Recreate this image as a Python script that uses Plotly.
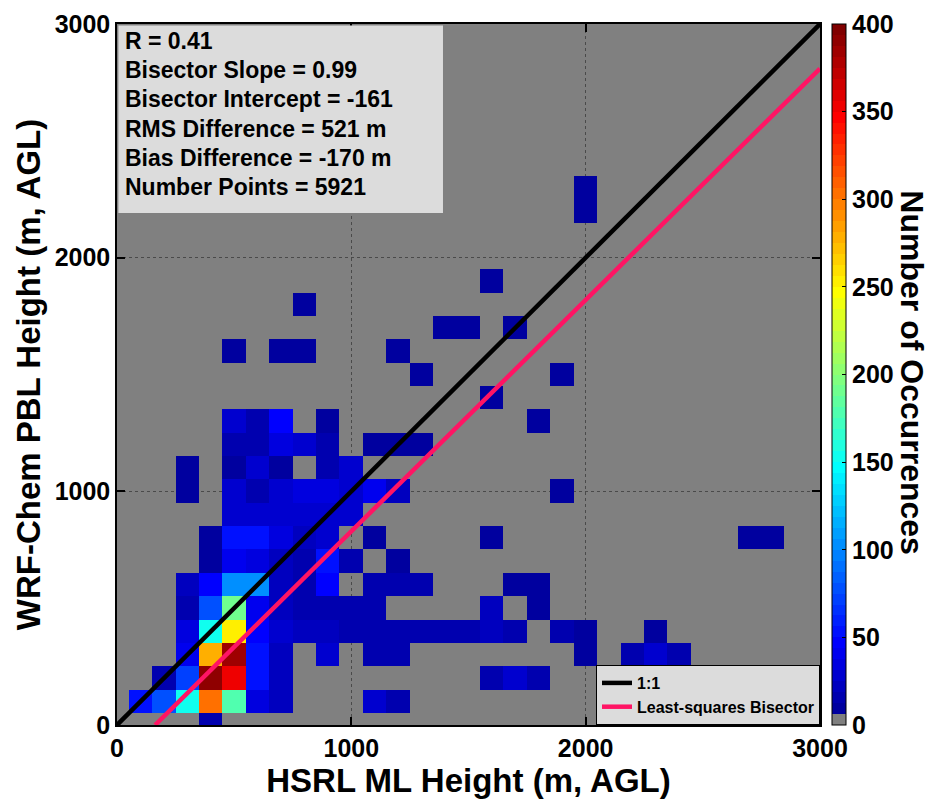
import numpy as np
import plotly.graph_objects as go

# ---------------- data ----------------
bin_centers = list(range(0, 3001, 100))          # 100 m bins, centred on multiples of 100 m

row_y = [0, 100, 200, 300, 400, 500, 600, 700, 800, 900, 1000, 1100, 1200, 1300,
         1400, 1500, 1600, 1700, 1800, 1900, 2200, 2300]
row_x = [
    [400],
    [100, 200, 300, 400, 500, 600, 700, 1100, 1200],
    [200, 300, 400, 500, 600, 700, 1600, 1700, 1800],
    [300, 400, 500, 600, 700, 900, 1100, 1200, 2000, 2200, 2300, 2400],
    [300, 400, 500, 600, 700, 800, 900, 1000, 1100, 1200, 1300, 1400, 1500, 1600, 1700, 1900, 2000, 2300],
    [300, 400, 500, 600, 700, 800, 900, 1000, 1100, 1600, 1800],
    [300, 400, 500, 600, 700, 800, 900, 1100, 1200, 1300, 1700, 1800],
    [400, 500, 600, 700, 800, 900, 1000, 1200],
    [400, 500, 600, 700, 800, 900, 1100, 1600, 2700, 2800],
    [500, 600, 700, 800, 900, 1000],
    [300, 500, 600, 700, 800, 900, 1000, 1100, 1200, 1900],
    [300, 500, 600, 700, 900, 1000],
    [500, 600, 700, 800, 900, 1100, 1200, 1300],
    [500, 600, 700, 900, 1800],
    [1600],
    [1300, 1900],
    [500, 700, 800, 1200],
    [1400, 1500, 1700],
    [800],
    [1600],
    [2000],
    [2000],
]
row_n = [
    [15],
    [55, 80, 150, 300, 175, 35, 20, 30, 18],
    [15, 70, 390, 350, 50, 20, 15, 30, 15],
    [40, 275, 385, 50, 20, 25, 15, 15, 12, 15, 25, 18],
    [35, 150, 250, 45, 30, 20, 20, 18, 18, 18, 18, 18, 18, 20, 15, 15, 12, 12],
    [15, 80, 190, 40, 20, 15, 15, 15, 15, 20, 12],
    [20, 45, 100, 100, 20, 15, 45, 15, 15, 15, 12, 12],
    [12, 40, 35, 20, 15, 55, 15, 12],
    [12, 55, 55, 35, 20, 30, 12, 12, 12, 12],
    [30, 30, 30, 30, 30, 25],
    [12, 25, 15, 25, 35, 35, 25, 40, 20, 12],
    [12, 12, 25, 12, 15, 30],
    [15, 15, 35, 30, 15, 12, 12, 12],
    [25, 15, 45, 12, 12],
    [12],
    [12, 12],
    [12, 12, 12, 12],
    [12, 12, 12],
    [12],
    [12],
    [12],
    [12],
]

bisector_slope = 0.99
bisector_intercept = -161
stats_lines = [
    "R = 0.41",
    "Bisector Slope = 0.99",
    "Bisector Intercept = -161",
    "RMS Difference = 521 m",
    "Bias Difference = -170 m",
    "Number Points = 5921",
]
axis_ticks = [0, 1000, 2000, 3000]
cbar_ticks = [0, 50, 100, 150, 200, 250, 300, 350, 400]

# ---------------- build grid ----------------
nb = len(bin_centers)
z = np.full((nb, nb), np.nan)
for yv, xs, ns in zip(row_y, row_x, row_n):
    for xv, nv in zip(xs, ns):
        z[bin_centers.index(yv), bin_centers.index(xv)] = nv

# MATLAB jet(64) with the first level replaced by grey
def jet64():
    n = 16
    u = [t / n for t in range(1, n + 1)] + [1.0] * (n - 1) + [t / n for t in range(n, 0, -1)]
    L = len(u)
    J = np.zeros((64, 3))
    g = [8 + t for t in range(1, L + 1)]
    for t in range(L):
        for ch, idx in ((0, g[t] + n), (1, g[t]), (2, g[t] - n)):
            if 1 <= idx <= 64:
                J[idx - 1, ch] = u[t]
    return J

J = jet64()
J[0] = [0.5, 0.5, 0.5]
cscale = []
for k in range(64):
    c = "rgb(%d,%d,%d)" % tuple(int(round(v * 255)) for v in J[k])
    cscale.append([k / 64, c])
    cscale.append([(k + 1) / 64, c])

FONT = "Liberation Sans, Arial, Helvetica, sans-serif"

fig = go.Figure()
fig.add_trace(go.Heatmap(
    x=bin_centers, y=bin_centers, z=z,
    zmin=0, zmax=400, colorscale=cscale,
    hoverongaps=False, showlegend=False,
    colorbar=dict(
        x=1.017, xanchor="left", y=0.5, yanchor="middle",
        len=1, lenmode="fraction", thickness=14, xpad=0, ypad=0,
        outlinewidth=1, outlinecolor="black",
        tickvals=cbar_ticks, ticks="inside", ticklen=4, tickcolor="black",
        tickfont=dict(family=FONT, size=25, color="black", weight="bold"),
    ),
))

x_end = 3000
fig.add_trace(go.Scatter(
    x=[0, x_end], y=[0, x_end], mode="lines", name="1:1",
    line=dict(color="black", width=4.5),
))
x0b = -bisector_intercept / bisector_slope
fig.add_trace(go.Scatter(
    x=[x0b, x_end], y=[bisector_slope * x0b + bisector_intercept, bisector_slope * x_end + bisector_intercept],
    mode="lines", name="Least-squares Bisector",
    line=dict(color="#ff1464", width=4.5),
))

axis_common = dict(
    range=[0, 3000], tickvals=axis_ticks, showgrid=True, gridcolor="#4a4a4a",
    griddash="dot", gridwidth=1, zeroline=False, showline=True, linecolor="black",
    linewidth=1.5, mirror="ticks", ticks="inside", ticklen=8, tickwidth=1.5,
    tickcolor="black", tickfont=dict(family=FONT, size=25, color="black", weight="bold"),
)

fig.update_layout(
    width=931, height=801,
    margin=dict(l=117, r=111, t=24, b=76, autoexpand=False),
    paper_bgcolor="white", plot_bgcolor="#808080",
    font=dict(family=FONT, color="black"),
    xaxis=dict(**axis_common, title=dict(text="HSRL ML Height (m, AGL)", standoff=3,
               font=dict(family=FONT, size=33, color="black", weight="bold"))),
    yaxis=dict(**axis_common, title=dict(text="WRF-Chem PBL Height (m, AGL)", standoff=4,
               font=dict(family=FONT, size=33, color="black", weight="bold"))),
    legend=dict(x=1, xanchor="right", y=0, yanchor="bottom", bgcolor="#dcdcdc",
                bordercolor="black", borderwidth=1, tracegroupgap=0,
                font=dict(family=FONT, size=16, color="black", weight="bold")),
)

# statistics box
fig.add_shape(type="rect", xref="paper", yref="paper", x0=0.002, x1=0.4637,
              y0=0.7304, y1=0.998, fillcolor="#dcdcdc", line=dict(width=0), layer="above")
for k, s in enumerate(stats_lines):
    fig.add_annotation(xref="paper", yref="paper", x=0.008, xanchor="left",
                       y=1 - (17 + 29.2 * k) / 701, yanchor="middle", showarrow=False,
                       text=s, font=dict(family=FONT, size=23, color="black", weight="bold"))

fig.add_annotation(xref="paper", yref="paper", x=1.1305, y=0.502, xanchor="center",
                   yanchor="middle", showarrow=False, textangle=90,
                   text="Number of Occurrences",
                   font=dict(family=FONT, size=32, color="black", weight="bold"))

fig.write_html("out.html")
